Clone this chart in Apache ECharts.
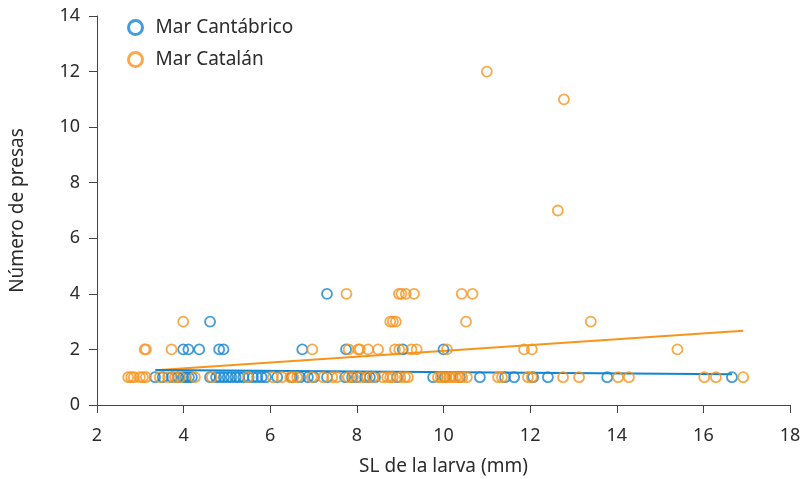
<!DOCTYPE html>
<html>
<head>
<meta charset="utf-8">
<script src="https://cdn.jsdelivr.net/npm/echarts@6/dist/echarts.min.js"></script>
<style>html,body{margin:0;padding:0;background:#fff;}#c{width:805px;height:479px;}</style>
</head>
<body>
<div id="c"></div>
<script>
// ---- Data (SL in mm, number of prey) ----
const seriesNames = ['Mar Cantábrico', 'Mar Catalán'];

const cantX4 = [7.31];
const cantX3 = [4.61];
const cantX2 = [3.99, 4.11, 4.36, 4.82, 4.92, 6.74, 7.75, 9.06, 10.0];
const cantX1 = [3.34, 3.52, 3.73, 3.87, 3.99, 4.05, 4.12, 4.19, 4.61, 4.75, 4.84, 4.93, 5.02, 5.1, 5.2, 5.28, 5.38, 5.5, 5.6, 5.7, 5.8, 5.9, 6.16, 6.5, 6.69, 6.87, 7.01, 7.31, 7.73, 7.89, 8.0, 8.19, 8.3, 8.42, 8.93, 9.76, 10.03, 10.38, 10.84, 11.42, 11.63, 12.07, 12.41, 13.78, 16.66];

const catX12 = [11.0];
const catX11 = [12.78];
const catX7 = [12.64];
const catX4 = [7.76, 8.97, 9.03, 9.13, 9.32, 10.42, 10.67];
const catX3 = [3.99, 8.77, 8.83, 8.9, 10.52, 13.4];
const catX2 = [3.1, 3.13, 3.72, 6.97, 7.81, 8.03, 8.07, 8.26, 8.49, 8.88, 8.98, 9.26, 9.38, 10.08, 11.86, 12.04, 15.4];
const catX1 = [2.72, 2.79, 2.85, 2.99, 3.06, 3.13, 3.45, 3.64, 3.8, 3.92, 4.26, 4.65, 5.49, 6.06, 6.27, 6.46, 6.53, 6.62, 6.96, 7.22, 7.43, 7.54, 7.8, 7.91, 8.07, 8.23, 8.37, 8.6, 8.7, 8.77, 8.83, 9.0, 9.11, 9.18, 9.87, 9.94, 10.0, 10.07, 10.14, 10.21, 10.28, 10.36, 10.43, 10.54, 11.26, 11.35, 11.95, 12.04, 12.76, 13.13, 14.03, 14.28, 16.02, 16.29, 16.92];

// fitted trend lines (endpoints)
const trendCant = [[3.35, 1.26], [16.66, 1.11]];
const trendCat = [[3.35, 1.25], [16.92, 2.67]];

const xTicks = [2, 4, 6, 8, 10, 12, 14, 16, 18];
const yTicks = [0, 2, 4, 6, 8, 10, 12, 14];

function pts(groups) {
  const out = [];
  groups.forEach(([xs, y]) => xs.forEach(x => out.push([x, y])));
  return out;
}
const cantData = pts([[cantX1, 1], [cantX2, 2], [cantX3, 3], [cantX4, 4]]);
const catData = pts([[catX1, 1], [catX2, 2], [catX3, 3], [catX4, 4], [catX7, 7], [catX11, 11], [catX12, 12]]);

const BLUE = '#1184d0';
const ORANGE = '#f7941d';
const FONT = 'Noto Sans';
const TXT = '#2b2b2b';

const chart = echarts.init(document.getElementById('c'), null, {renderer: 'canvas'});
chart.setOption({
  animation: false,
  backgroundColor: '#fff',
  textStyle: {fontFamily: FONT},
  grid: {left: 97, right: 15, top: 16, bottom: 74, containLabel: false, outerBoundsMode: 'none'},
  legend: {
    orient: 'vertical', left: 122, top: 13, itemWidth: 30, itemHeight: 14, itemGap: 13,
    textStyle: {fontSize: 19, color: TXT, fontFamily: FONT},
    data: [
      {name: seriesNames[0], icon: 'circle', itemStyle: {color: 'transparent', borderColor: BLUE, borderWidth: 3}},
      {name: seriesNames[1], icon: 'circle', itemStyle: {color: 'transparent', borderColor: ORANGE, borderWidth: 3}}
    ]
  },
  xAxis: {
    type: 'value', min: xTicks[0], max: xTicks[xTicks.length - 1], interval: 2,
    name: 'SL de la larva (mm)', nameLocation: 'middle', nameGap: 52,
    nameTextStyle: {fontSize: 19, color: TXT, fontFamily: FONT},
    axisLine: {show: true, lineStyle: {color: '#444', width: 1}},
    axisTick: {show: true, length: 8, lineStyle: {color: '#444'}},
    axisLabel: {fontSize: 18, color: TXT, margin: 22, fontFamily: FONT},
    splitLine: {show: false}
  },
  yAxis: {
    type: 'value', min: yTicks[0], max: yTicks[yTicks.length - 1], interval: 2,
    name: 'Número de presas', nameLocation: 'middle', nameGap: 70,
    nameTextStyle: {fontSize: 19, color: TXT, fontFamily: FONT},
    axisLine: {show: true, lineStyle: {color: '#444', width: 1}},
    axisTick: {show: true, length: 8, lineStyle: {color: '#444'}},
    axisLabel: {fontSize: 18, color: TXT, margin: 17, fontFamily: FONT},
    splitLine: {show: false}
  },
  series: [
    {
      name: seriesNames[0], type: 'scatter', data: cantData, symbol: 'circle', symbolSize: 10,
      itemStyle: {color: 'transparent', borderColor: BLUE, borderWidth: 1.8}, z: 3
    },
    {
      name: seriesNames[1], type: 'scatter', data: catData, symbol: 'circle', symbolSize: 10,
      itemStyle: {color: 'transparent', borderColor: ORANGE, borderWidth: 1.8}, z: 3
    },
    {
      type: 'line', data: trendCat, showSymbol: false, symbol: 'none',
      lineStyle: {color: ORANGE, width: 2}, z: 2, silent: true
    },
    {
      type: 'line', data: trendCant, showSymbol: false, symbol: 'none',
      lineStyle: {color: BLUE, width: 2}, z: 2, silent: true
    }
  ]
});
</script>
</body>
</html>
